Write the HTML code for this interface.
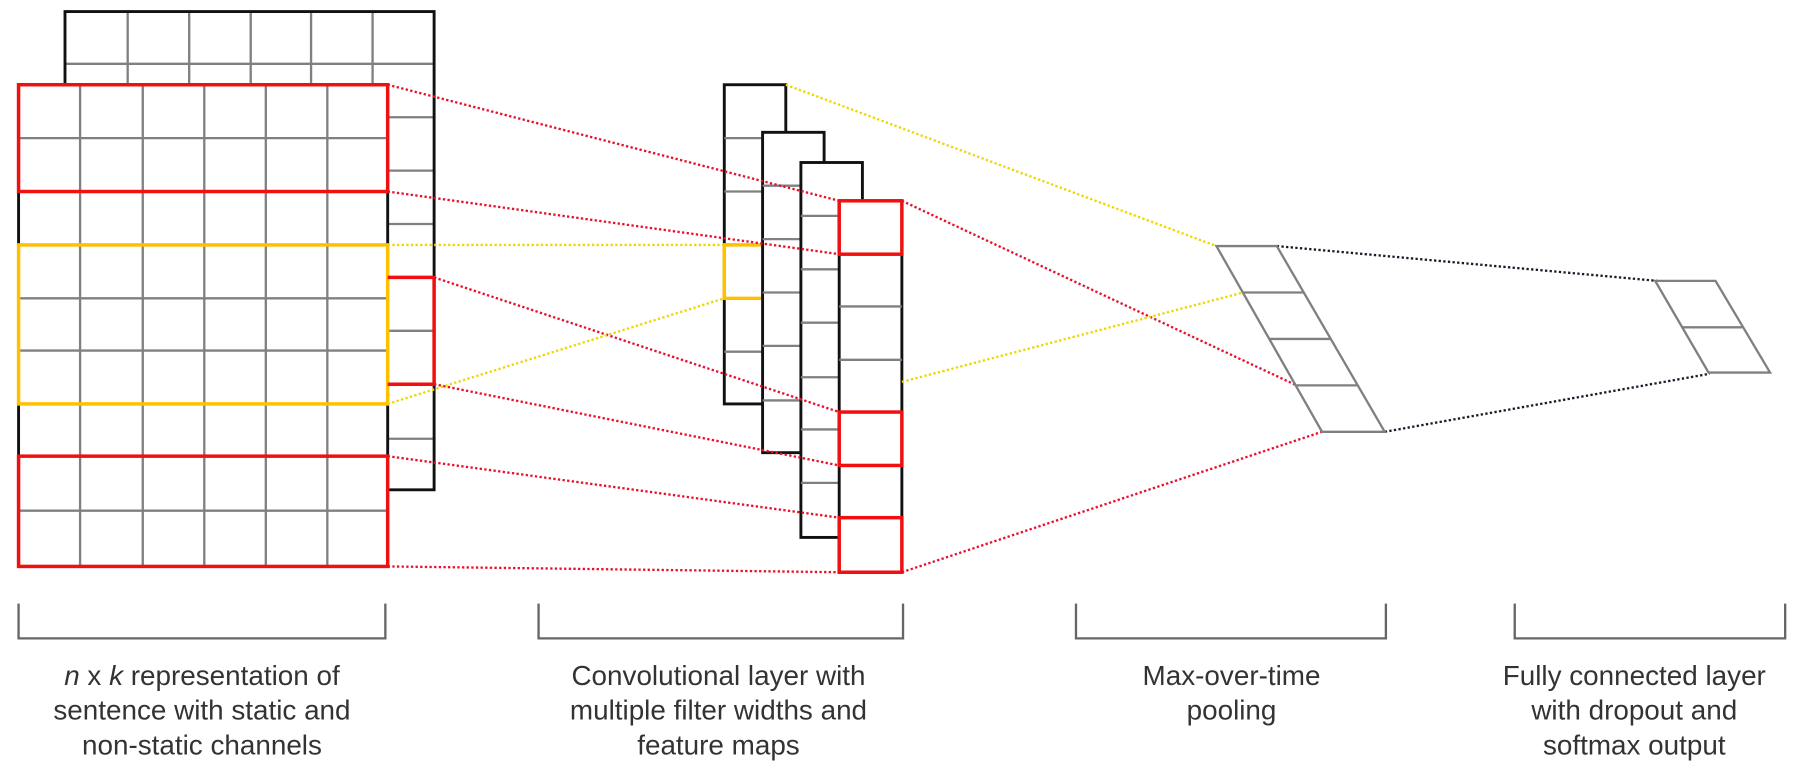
<!DOCTYPE html>
<html><head><meta charset="utf-8"><style>
html,body{margin:0;padding:0;background:#fff;}
svg{display:block;}
text{font-family:"Liberation Sans",sans-serif;font-size:24px;fill:#333;text-anchor:middle;}
</style></head><body>
<svg width="1820" height="780" viewBox="0 0 1568 672" xmlns="http://www.w3.org/2000/svg">
<rect width="1568" height="672" fill="#fff"/>
<g stroke="#808080" stroke-width="2" fill="none">
<line x1="56" y1="55" x2="374" y2="55"/>
<line x1="110" y1="10" x2="110" y2="73"/><line x1="163" y1="10" x2="163" y2="73"/>
<line x1="216" y1="10" x2="216" y2="73"/><line x1="268" y1="10" x2="268" y2="73"/>
<line x1="321" y1="10" x2="321" y2="73"/>
<line x1="334" y1="101" x2="374" y2="101"/><line x1="334" y1="147" x2="374" y2="147"/>
<line x1="334" y1="193" x2="374" y2="193"/><line x1="334" y1="285" x2="374" y2="285"/>
<line x1="334" y1="378" x2="374" y2="378"/>
</g>
<path d="M56 73 V10 H374 V422 H334" fill="none" stroke="#111" stroke-width="2.5"/>
<rect x="16" y="73" width="318" height="415" fill="#fff"/>
<g stroke="#808080" stroke-width="2" fill="none">
<line x1="69" y1="73" x2="69" y2="488"/><line x1="123" y1="73" x2="123" y2="488"/>
<line x1="176" y1="73" x2="176" y2="488"/><line x1="229" y1="73" x2="229" y2="488"/>
<line x1="282" y1="73" x2="282" y2="488"/>
<line x1="16" y1="119" x2="334" y2="119"/><line x1="16" y1="257" x2="334" y2="257"/>
<line x1="16" y1="302" x2="334" y2="302"/><line x1="16" y1="440" x2="334" y2="440"/>
</g>
<g stroke="#111" stroke-width="2.5">
<line x1="16" y1="165" x2="16" y2="211"/><line x1="16" y1="348" x2="16" y2="393"/>
<line x1="334" y1="165" x2="334" y2="211"/><line x1="334" y1="348" x2="334" y2="393"/>
</g>
<g stroke="#808080" stroke-width="2"><line x1="16" y1="165" x2="334" y2="165"/><line x1="16" y1="393" x2="334" y2="393"/></g>
<rect x="16" y="73" width="318" height="92" fill="none" stroke="#f01010" stroke-width="3"/>
<rect x="16" y="393" width="318" height="95" fill="none" stroke="#f01010" stroke-width="3"/>
<rect x="16" y="211" width="318" height="137" fill="none" stroke="#ffc000" stroke-width="3"/>
<path d="M334 239 H374 V331 H334" fill="none" stroke="#f01010" stroke-width="3"/>
<rect x="624" y="73" width="53" height="275" fill="#fff" stroke="#111" stroke-width="2.5"/>
<g stroke="#808080" stroke-width="2"><line x1="624" y1="119" x2="657" y2="119"/><line x1="624" y1="165" x2="657" y2="165"/><line x1="624" y1="303" x2="657" y2="303"/></g>
<path d="M657 211 H624 V257 H657" fill="none" stroke="#ffc000" stroke-width="3"/>
<rect x="657" y="114" width="53" height="276" fill="#fff" stroke="#111" stroke-width="2.5"/>
<g stroke="#808080" stroke-width="2"><line x1="657" y1="160" x2="690" y2="160"/><line x1="657" y1="206" x2="690" y2="206"/><line x1="657" y1="252" x2="690" y2="252"/><line x1="657" y1="298" x2="690" y2="298"/><line x1="657" y1="345" x2="690" y2="345"/></g>
<rect x="690" y="140" width="53" height="323" fill="#fff" stroke="#111" stroke-width="2.5"/>
<g stroke="#808080" stroke-width="2"><line x1="690" y1="186" x2="723" y2="186"/><line x1="690" y1="232" x2="723" y2="232"/><line x1="690" y1="278" x2="723" y2="278"/><line x1="690" y1="325" x2="723" y2="325"/><line x1="690" y1="370" x2="723" y2="370"/><line x1="690" y1="416" x2="723" y2="416"/></g>
<rect x="723" y="173" width="54" height="320" fill="#fff" stroke="#111" stroke-width="2.5"/>
<g stroke="#808080" stroke-width="2"><line x1="723" y1="264" x2="777" y2="264"/><line x1="723" y1="310" x2="777" y2="310"/></g>
<g fill="none" stroke="#f01010" stroke-width="3">
<rect x="723" y="173" width="54" height="46"/><rect x="723" y="355" width="54" height="46"/><rect x="723" y="446" width="54" height="47"/>
</g>
<g fill="none" stroke-width="2" stroke-dasharray="2 2">
<g stroke="#e8102a">
<line x1="334" y1="73" x2="723" y2="173"/><line x1="334" y1="165" x2="723" y2="219"/>
<line x1="374" y1="239" x2="723" y2="355"/><line x1="374" y1="331" x2="723" y2="401"/>
<line x1="334" y1="393" x2="723" y2="446"/><line x1="334" y1="488" x2="723" y2="493"/>
<line x1="777" y1="173" x2="1117" y2="332"/><line x1="777" y1="493" x2="1139" y2="372"/>
</g>
<g stroke="#ecd800">
<line x1="334" y1="211" x2="624" y2="211"/><line x1="334" y1="348" x2="624" y2="257"/>
<line x1="677" y1="73" x2="1048" y2="212"/><line x1="777" y1="329" x2="1071" y2="252"/>
</g>
<g stroke="#1a1a2a">
<line x1="1100" y1="212" x2="1428" y2="242"/><line x1="1193" y1="372" x2="1473" y2="322"/>
</g>
</g>
<g fill="none" stroke="#808080" stroke-width="2">
<path d="M1048 212 H1100 L1193 372 H1139 Z"/>
<line x1="1071" y1="252" x2="1123" y2="252"/><line x1="1094" y1="292" x2="1146" y2="292"/><line x1="1117" y1="332" x2="1170" y2="332"/>
<path d="M1426 242 H1478 L1525 321 H1472 Z"/>
<line x1="1449" y1="282" x2="1501" y2="282"/>
</g>
<g fill="none" stroke="#666" stroke-width="2">
<path d="M16 520 V550 H332 V520"/><path d="M464 520 V550 H778 V520"/>
<path d="M927 520 V550 H1194 V520"/><path d="M1305 520 V550 H1538 V520"/>
</g>
<text x="174" y="590"><tspan font-style="italic">n</tspan> x <tspan font-style="italic">k</tspan> representation of</text>
<text x="174" y="620">sentence with static and</text>
<text x="174" y="650">non-static channels</text>
<text x="619" y="590">Convolutional layer with</text>
<text x="619" y="620">multiple filter widths and</text>
<text x="619" y="650">feature maps</text>
<text x="1061" y="590">Max-over-time</text>
<text x="1061" y="620">pooling</text>
<text x="1408" y="590">Fully connected layer</text>
<text x="1408" y="620">with dropout and</text>
<text x="1408" y="650">softmax output</text>
</svg>
</body></html>
